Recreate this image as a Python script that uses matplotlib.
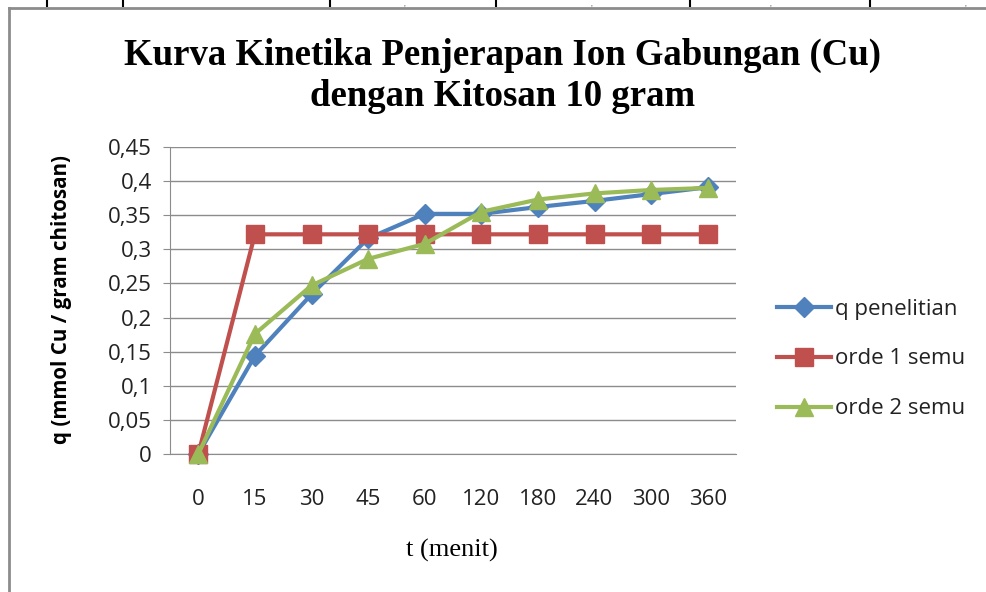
import matplotlib
matplotlib.use("Agg")
import matplotlib.pyplot as plt
from matplotlib.lines import Line2D

# data
waktu = ["0", "15", "30", "45", "60", "120", "180", "240", "300", "360"]
q_penelitian = [0, 0.144, 0.234, 0.316, 0.352, 0.352, 0.362, 0.371, 0.381, 0.391]
orde1_semu = [0, 0.322, 0.322, 0.322, 0.322, 0.322, 0.322, 0.322, 0.322, 0.322]
orde2_semu = [0, 0.176, 0.247, 0.286, 0.308, 0.355, 0.373, 0.382, 0.387, 0.390]
y_ticks = [0, 0.05, 0.1, 0.15, 0.2, 0.25, 0.3, 0.35, 0.4, 0.45]

W, H = 987, 592
fig = plt.figure(figsize=(W / 100, H / 100), dpi=100)

# leftover table lines from the document page (top strip)
for xp in [47, 123, 330, 496, 690, 870]:
    fig.add_artist(Line2D([xp / W, xp / W], [1, 1 - 6 / H], color="black", lw=1.5))
for xp in [405, 592, 771, 966]:
    fig.text(xp / W, 1, ",", fontsize=5.5, ha="center", va="top",
             color="#555555", family="Liberation Serif")

# chart frame (cut off right and bottom)
fig.add_artist(Line2D([9 / W, 1], [1 - 7.5 / H, 1 - 7.5 / H], color="#8c8c8c", lw=2))
fig.add_artist(Line2D([9 / W, 9 / W], [0, 1 - 7.5 / H], color="#8c8c8c", lw=2))

ax = fig.add_axes([170 / W, 1 - 454 / H, 566 / W, 307 / H])
x = range(len(waktu))

ax.plot(x, q_penelitian, color="#4F81BD", lw=3, marker="D", ms=10,
        label="q penelitian", zorder=3)
ax.plot(x, orde1_semu, color="#C0504D", lw=3, marker="s", ms=12.5,
        label="orde 1 semu", zorder=3)
ax.plot(x, orde2_semu, color="#9BBB59", lw=3, marker="^", ms=12.5,
        label="orde 2 semu", zorder=4)

ax.set_xlim(-0.5, len(waktu) - 0.5)
ax.set_ylim(0, 0.45)
ax.set_yticks(y_ticks)
ax.set_yticklabels([("%g" % v).replace(".", ",") for v in y_ticks])
ax.set_xticks(list(x))
ax.set_xticklabels(waktu)
ax.yaxis.grid(True, color="#8c8c8c", lw=1)
ax.set_axisbelow(True)
for s in ["top", "right"]:
    ax.spines[s].set_visible(False)
ax.spines["left"].set_color("#8c8c8c")
ax.spines["bottom"].set_color("#8c8c8c")
ax.tick_params(axis="y", length=5, color="#8c8c8c", labelsize=16, pad=8,
               labelcolor="#222222", labelfontfamily="Open Sans")
ax.tick_params(axis="x", length=0, labelsize=16, pad=25,
               labelcolor="#222222", labelfontfamily="Open Sans")
for ln in ax.lines:
    ln.set_clip_on(False)

fig.text(503 / W, 1 - 55 / H, "Kurva Kinetika Penjerapan Ion Gabungan (Cu)",
         ha="center", va="center", fontsize=26.5, fontweight="bold",
         family="Liberation Serif")
fig.text(503 / W, 1 - 97 / H, "dengan Kitosan 10 gram",
         ha="center", va="center", fontsize=26.5, fontweight="bold",
         family="Liberation Serif")
fig.text(62 / W, 1 - 300 / H, "q (mmol Cu / gram chitosan)", rotation=90,
         ha="center", va="center", fontsize=14.8, fontweight="bold", family="Open Sans")
fig.text(452 / W, 1 - 550 / H, "t (menit)", ha="center", va="center",
         fontsize=19, family="Liberation Serif")

leg = fig.legend(loc="center left", bbox_to_anchor=(777 / W, 1 - 359 / H),
                 frameon=False, prop={"family": "Open Sans", "size": 16},
                 handlelength=2.45, handletextpad=0.18, labelspacing=1.3,
                 borderpad=0, borderaxespad=0)
for t in leg.get_texts():
    t.set_color("#222222")

fig.savefig("out.png", dpi=100, facecolor="white")
